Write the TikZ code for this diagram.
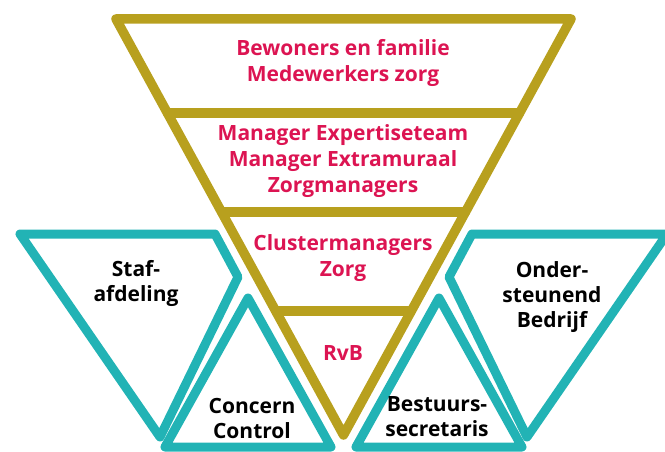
\documentclass[tikz,border=0pt]{standalone}
\usepackage{fontspec}
\setmainfont{Open Sans}
\usepackage{tikz}
\usepackage{xcolor}
\usetikzlibrary{calc}
\definecolor{funnelgold}{HTML}{B8A01E}
\definecolor{sideteal}{HTML}{22B3B5}
\definecolor{tierred}{HTML}{DC1452}
\tikzset{
  funnel/.style={draw=funnelgold,line width=9.5pt,line join=round,line cap=round},
  sidebox/.style={draw=sideteal,line width=9pt,line join=round},
  tierlabel/.style={text=tierred,align=center,
                    font=\fontsize{21}{26}\selectfont\bfseries},
  sidelabel/.style={text=black,align=center,
                    font=\fontsize{21}{25}\selectfont\bfseries}
}

\begin{document}
\begin{tikzpicture}[x=1pt,y=1pt]
  \useasboundingbox (0,0) rectangle (665,451);
  % side shapes
  \draw[sidebox] (20,217) -- (215,217) -- (238,174) -- (160,14) -- cycle;
  \draw[sidebox] (667,217) -- (472,217) -- (449,174) -- (527,14) -- cycle;
  \draw[sidebox] (248,153) -- (331,4) -- (165,4) -- cycle;
  \draw[sidebox] (439,153) -- (522,4) -- (356,4) -- cycle;
  % funnel with its tiers
  \coordinate (tl) at (116,432);
  \coordinate (tr) at (571,432);
  \coordinate (ap) at (343.5,16);
  \draw[funnel] (tl) -- (tr) -- (ap) -- cycle;
  \foreach \t in {0.226,0.464,0.702}
    \draw[funnel] ($(tl)!\t!(ap)$) -- ($(tr)!\t!(ap)$);
  \node[tierlabel] (bewoners) at (343,388) {Bewoners en familie\\Medewerkers zorg};
  \node[tierlabel] (managers) at (343,290) {Manager Expertiseteam\\Manager Extramuraal\\Zorgmanagers};
  \node[tierlabel] (cluster) at (343,193) {Clustermanagers\\Zorg};
  \node[tierlabel] (rvb) at (343,98) {RvB};
  \node[sidelabel] (staf) at (136,168) {Staf-\\afdeling};
  \node[sidelabel] (concern) at (252,33) {Concern\\Control};
  \node[sidelabel] (bestuur) at (437,34) {Bestuurs-\\secretaris};
  \node[sidelabel] (onder) at (552,154) {Onder-\\steunend\\Bedrijf};
\end{tikzpicture}
\end{document}
